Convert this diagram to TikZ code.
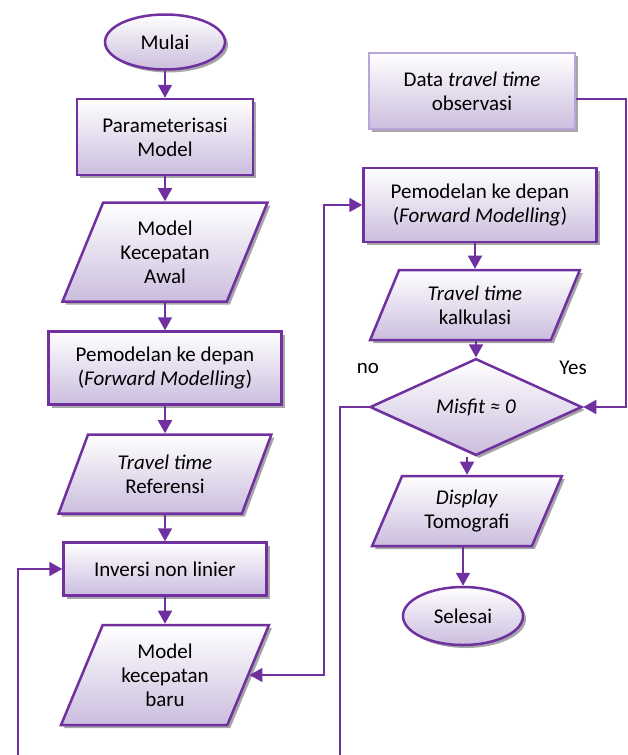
\documentclass[tikz,border=0pt]{standalone}
\usepackage{fontspec}
\setmainfont{Carlito}
\usetikzlibrary{shapes.geometric,arrows.meta,shadows}
\definecolor{ungu}{RGB}{112,48,160}
\definecolor{ungumuda}{RGB}{185,165,215}
\definecolor{isi}{RGB}{203,189,222}
\tikzset{
    kotak/.style={draw=ungu, line width=2.5pt, top color=white, bottom color=isi,
        align=center, inner sep=0pt, font=\fontsize{21}{24}\selectfont,
        drop shadow={shadow xshift=3pt, shadow yshift=-3pt, fill=gray!70, opacity=1}},
    proses/.style={kotak, rectangle},
    io/.style={kotak, trapezium, trapezium left angle=65, trapezium right angle=115,
        trapezium stretches=true},
    ujung/.style={kotak, ellipse},
    cek/.style={kotak, diamond},
    panah/.style={draw=ungu, line width=1.8pt, -{Triangle[length=13pt,width=14pt]}},
    garis/.style={draw=ungu, line width=1.8pt},
}
\begin{document}
\begin{tikzpicture}[x=1pt, y=-1pt]
    \useasboundingbox (0,0) rectangle (628,755);

    \node[ujung, minimum width=120, minimum height=55] (mulai) at (165,42) {Mulai};
    \node[proses, minimum width=176, minimum height=76] (param) at (165,137) {Parameterisasi\\Model};
    \node[io, minimum width=205, minimum height=99] (awal) at (165,252) {Model\\Kecepatan\\Awal};
    \node[proses, minimum width=233, minimum height=73] (maju) at (165,368) {Pemodelan ke depan\\(\textit{Forward Modelling})};
    \node[io, minimum width=213, minimum height=79] (ref) at (165,474) {\textit{Travel time}\\Referensi};
    \node[proses, minimum width=203, minimum height=53] (inversi) at (165,569) {Inversi non linier};
    \node[io, minimum width=208, minimum height=100] (baru) at (165,675) {Model\\kecepatan\\baru};

    \node[proses, draw=ungumuda, minimum width=206, minimum height=76] (obs) at (472,91) {Data \textit{travel time}\\observasi};
    \node[proses, minimum width=233, minimum height=74] (maju2) at (480,205) {Pemodelan ke depan\\(\textit{Forward Modelling})};
    \node[io, minimum width=210, minimum height=70] (kalk) at (475,305) {\textit{Travel time}\\kalkulasi};
    \node[cek, minimum width=212, minimum height=79] (misfit) at (476,407) {\textit{Misfit ≈ 0}};
    \node[io, minimum width=190, minimum height=70] (tampil) at (467,511) {\textit{Display}\\Tomografi};
    \node[ujung, minimum width=120, minimum height=58] (selesai) at (463,616) {Selesai};

    \node[font=\fontsize{21}{24}\selectfont] (no) at (368,368) {no};
    \node[font=\fontsize{21}{24}\selectfont] (yes) at (573,368) {Yes};

    \draw[panah] (mulai) -- (param);
    \draw[panah] (param) -- (awal);
    \draw[panah] (awal) -- (maju);
    \draw[panah] (maju) -- (ref);
    \draw[panah] (ref) -- (inversi);
    \draw[panah] (inversi) -- (baru);

    \draw[panah] (maju2.south -| kalk.north) -- (kalk.north);
    \draw[panah] (kalk.south -| misfit.north) -- (misfit.north);
    \draw[panah] (misfit.south -| tampil.north) -- (tampil.north);
    \draw[panah] (tampil.south -| selesai.north) -- (selesai.north);

    \coordinate (kanan) at (626,0);
    \coordinate (tengah) at (324,0);
    \coordinate (bawahkanan) at (340,755);
    \coordinate (bawahkiri) at (18,755);

    \draw[panah] ([yshift=-8pt]obs.east) -| (kanan |- misfit.east) -- (misfit.east);
    \draw[panah, {Triangle[length=13pt,width=14pt]}-{Triangle[length=13pt,width=14pt]}]
        (baru.east) -| (tengah |- maju2.west) -- (maju2.west);
    \draw[garis] (misfit.west) -| (bawahkanan);
    \draw[panah] (bawahkiri) |- (inversi.west);
\end{tikzpicture}
\end{document}
